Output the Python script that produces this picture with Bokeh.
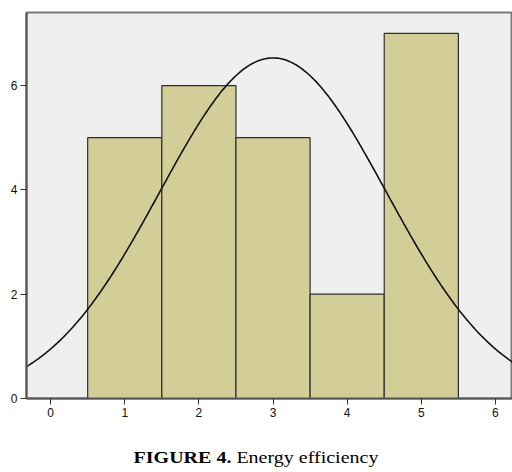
import numpy as np
from bokeh.plotting import figure
from bokeh.models import Range1d, Div, FixedTicker
from bokeh.layouts import column
from bokeh.embed import file_html
from bokeh.resources import INLINE

# Histogram data
bin_centers = [1, 2, 3, 4, 5]
counts = [5, 6, 5, 2, 7]
bin_width = 1.0
x_ticks = [0, 1, 2, 3, 4, 5, 6]
y_ticks = [0, 2, 4, 6]
caption_bold = "FIGURE 4."
caption_text = "Energy efficiency"

# normal curve fitted to the histogram values
vals = np.repeat(bin_centers, counts).astype(float)
n = len(vals)
mu = vals.mean()
sd = vals.std(ddof=1)

p = figure(width=512, height=432, output_backend="svg", toolbar_location=None,
           x_range=Range1d(-0.325, 6.23), y_range=Range1d(0, 7.4),
           min_border_left=26, min_border_top=12, min_border_right=0, min_border_bottom=34)
p.background_fill_color = "#EFEFEF"
p.border_fill_color = "white"
p.outline_line_color = "#7a7a7a"
p.outline_line_width = 2
p.xgrid.visible = False
p.ygrid.visible = False

p.quad(left=[c - bin_width / 2 for c in bin_centers],
       right=[c + bin_width / 2 for c in bin_centers],
       bottom=0, top=counts,
       fill_color="#D3CE98", line_color="#2e2e2e", line_width=1.2)

xs = np.linspace(-0.325, 6.23, 300)
ys = n * bin_width * np.exp(-0.5 * ((xs - mu) / sd) ** 2) / (sd * np.sqrt(2 * np.pi))
p.line(xs, ys, line_color="#111111", line_width=1.6)

for ax in (p.xaxis[0], p.yaxis[0]):
    ax.axis_line_color = "#555555"
    ax.axis_line_width = 2
    ax.major_tick_line_color = "#333333"
    ax.major_tick_line_width = 1
    ax.major_tick_in = 0
    ax.major_tick_out = 6
    ax.minor_tick_line_color = None
    ax.major_label_text_font = "Liberation Sans"
    ax.major_label_text_font_size = "12px"
    ax.major_label_text_color = "#111111"
    ax.major_label_standoff = 3
p.xaxis[0].ticker = FixedTicker(ticks=x_ticks)
p.yaxis[0].ticker = FixedTicker(ticks=y_ticks)

span_style = ("display:inline-block;line-height:20px;transform:scale(1,0.85);"
              "transform-origin:50% 84%;")
cap = Div(text=f'<span style="{span_style}"><b>{caption_bold}</b> {caption_text}</span>',
          width=512, height=40, margin=(0, 0, 0, 0),
          styles={"font-family": "'Liberation Serif', 'Times New Roman', serif",
                  "font-size": "20px", "color": "#000", "text-align": "center",
                  "width": "512px", "padding-top": "10px"})

layout = column(p, cap, spacing=0)
open("out.html", "w").write(file_html(layout, INLINE))
